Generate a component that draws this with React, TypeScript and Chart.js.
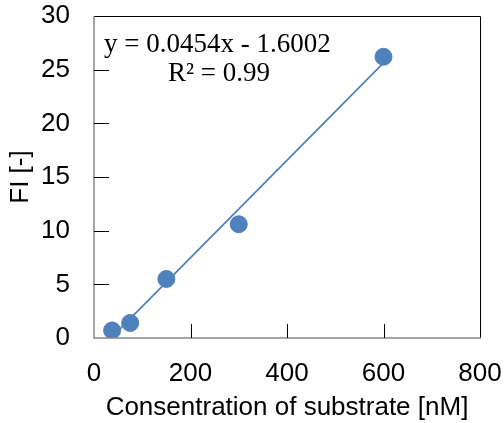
import React, { useEffect, useRef } from "react";
import { Chart, registerables } from "chart.js";

Chart.register(...registerables);

const concentrations = [37.5, 75, 150, 300, 600];
const fiValues = [0.7, 1.4, 5.5, 10.6, 26.2];
const slope = 0.0454;
const intercept = -1.6002;
const xTicks = [0, 200, 400, 600, 800];
const yTicks = [0, 5, 10, 15, 20, 25, 30];
const equationText = "y = 0.0454x - 1.6002";
const r2Text = "R\u00B2 = 0.99";
const xTitle = "Consentration of substrate [nM]";
const yTitle = "FI [-]";

const trendX = [concentrations[0], concentrations[concentrations.length - 1]];
const trendPoints = trendX.map((x) => ({ x, y: slope * x + intercept }));

const blue = "#4F81BD";

const framePlugin = {
  id: "frame",
  afterDraw(chart: any) {
    const { ctx, chartArea } = chart;
    const { left, right, top, bottom } = chartArea;
    const xs = chart.scales.x;
    const ys = chart.scales.y;
    ctx.save();
    ctx.strokeStyle = "#000";
    ctx.lineWidth = 1;
    ctx.beginPath();
    ctx.moveTo(left, top + 0.5);
    ctx.lineTo(right + 0.5, top + 0.5);
    ctx.lineTo(right + 0.5, bottom);
    ctx.stroke();
    ctx.strokeStyle = "#888888";
    ctx.lineWidth = 1.5;
    ctx.beginPath();
    ctx.moveTo(left, top);
    ctx.lineTo(left, bottom);
    ctx.lineTo(right + 1, bottom);
    ctx.stroke();
    ctx.strokeStyle = "#000";
    ctx.lineWidth = 1;
    ctx.beginPath();
    yTicks.slice(1, -1).forEach((v) => {
      const y = Math.round(ys.getPixelForValue(v)) + 0.5;
      ctx.moveTo(left, y);
      ctx.lineTo(left + 15, y);
    });
    xTicks.slice(1, -1).forEach((v) => {
      const x = Math.round(xs.getPixelForValue(v)) + 0.5;
      ctx.moveTo(x, bottom);
      ctx.lineTo(x, bottom - 14);
    });
    ctx.stroke();
    ctx.fillStyle = "#000";
    ctx.font = '27px "Liberation Serif", "Times New Roman", serif';
    ctx.textBaseline = "alphabetic";
    ctx.textAlign = "left";
    ctx.fillText(equationText, left + 10, top + 36);
    ctx.fillText(r2Text, left + 74, top + 65);
    ctx.restore();
  },
};

const zeroPad = (s: any) => {
  s.paddingTop = 0;
  s.paddingBottom = 0;
  s.paddingLeft = 0;
  s.paddingRight = 0;
};

export default function App() {
  const ref = useRef<HTMLCanvasElement | null>(null);
  useEffect(() => {
    if (!ref.current) return;
    const font = { family: '"Liberation Sans", Arial, sans-serif', size: 26 };
    const chart = new Chart(ref.current, {
      type: "scatter",
      data: {
        datasets: [
          {
            type: "line",
            label: "trend",
            data: trendPoints,
            borderColor: blue,
            borderWidth: 1.75,
            pointRadius: 0,
            fill: false,
            order: 2,
          },
          {
            label: "FI",
            data: concentrations.map((x, i) => ({ x, y: fiValues[i] })),
            backgroundColor: blue,
            borderColor: blue,
            pointRadius: 8.5,
            pointHoverRadius: 8.5,
            order: 1,
          },
        ],
      },
      options: {
        animation: false,
        responsive: false,
        maintainAspectRatio: false,
        layout: { padding: { top: 16, right: 24, left: 0, bottom: 0 } },
        plugins: {
          legend: { display: false },
          tooltip: { enabled: false },
        },
        scales: {
          x: {
            type: "linear",
            min: 0,
            max: 800,
            afterBuildTicks: (s: any) => {
              s.ticks = xTicks.map((v) => ({ value: v }));
            },
            afterFit: (s: any) => {
              s.height = 85;
              zeroPad(s);
            },
            grid: { display: false, drawTicks: false },
            border: { display: false },
            ticks: { color: "#000", font, padding: 20, maxRotation: 0 },
            title: {
              display: true,
              text: xTitle,
              color: "#000",
              font,
              padding: { top: 4, bottom: 0 },
            },
          },
          y: {
            type: "linear",
            min: 0,
            max: 30,
            afterBuildTicks: (s: any) => {
              s.ticks = yTicks.map((v) => ({ value: v }));
            },
            afterFit: (s: any) => {
              s.width = 94;
              zeroPad(s);
            },
            grid: { display: false, drawTicks: false },
            border: { display: false },
            ticks: { color: "#000", font, padding: 24 },
            title: {
              display: true,
              text: yTitle,
              color: "#000",
              font,
              padding: { top: 5, bottom: 0 },
            },
          },
        },
      },
      plugins: [framePlugin],
    } as any);
    return () => chart.destroy();
  }, []);
  return (
    <div style={{ position: "fixed", left: 0, top: 0, width: 504, height: 423, background: "#fff" }}>
      <canvas ref={ref} width={504} height={423} style={{ display: "block" }} />
    </div>
  );
}
